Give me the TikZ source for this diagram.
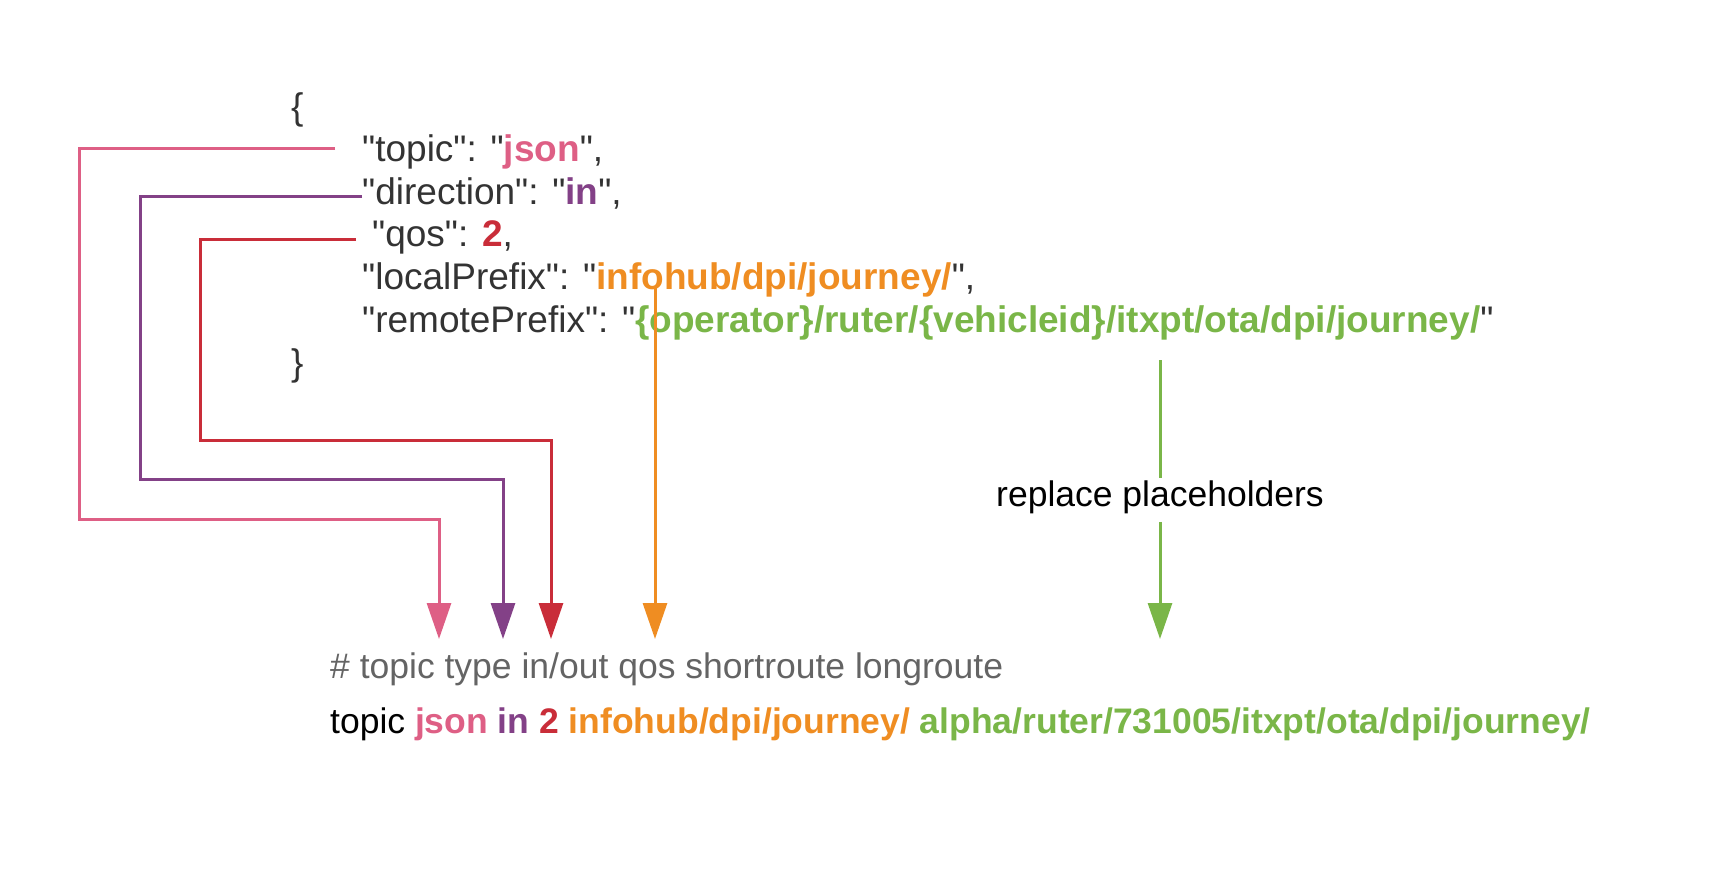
\documentclass[tikz,border=0pt]{standalone}
\usepackage{fontspec}
\setmainfont{Liberation Sans}[Ligatures=TeXOff]
\usetikzlibrary{arrows.meta}
\definecolor{cpink}{HTML}{DE5F85}
\definecolor{cpurple}{HTML}{834187}
\definecolor{cred}{HTML}{C92D39}
\definecolor{corange}{HTML}{EF8D22}
\definecolor{cgreen}{HTML}{7AB648}
\definecolor{cdark}{HTML}{333333}
\definecolor{cgrey}{HTML}{646464}
\begin{document}
\begin{tikzpicture}[x=1pt,y=-1pt,
  conn/.style={line width=3pt},
  tipped/.style={-{Triangle[length=36pt,width=24pt]}},
  json/.style={anchor=base west, inner sep=0pt, text=cdark, font=\fontsize{37}{44}\selectfont},
  bot/.style={anchor=base west, inner sep=0pt, font=\fontsize{35.5}{42}\selectfont},
  lbl/.style={inner xsep=2pt, inner ysep=4pt, text height=25pt, text depth=11pt, anchor=base, font=\fontsize{35.5}{42}\selectfont}]
\useasboundingbox (0,0) rectangle (1720,890);

% JSON block
\node[json] (lbrace) at (291,120) {\{};
\node[json] (ltopic) at (362,162) {"topic": "\textcolor{cpink}{\textbf{json}}",};
\node[json] (ldir) at (362,205) {"direction": "\textcolor{cpurple}{\textbf{in}}",};
\node[json] (lqos) at (372,247) {"qos": \textcolor{cred}{\textbf{2}},};
\node[json] (llocal) at (362,290) {"localPrefix": "\textcolor{corange}{\textbf{infohub/dpi/journey/}}",};
\node[json] (lremote) at (362,332) {"remotePrefix": "\textcolor{cgreen}{\textbf{\{operator\}/ruter/\{vehicleid\}/itxpt/ota/dpi/journey/}}"};
\node[json] (rbrace) at (291,375) {\}};

% bottom lines
\node[bot, text=cgrey] (cmt) at (330,678) {\# topic type in/out qos shortroute longroute};
\node[bot, text=black] (cfg) at (330,733) {topic \textcolor{cpink}{\textbf{json}} \textcolor{cpurple}{\textbf{in}} \textcolor{cred}{\textbf{2}} \textcolor{corange}{\textbf{infohub/dpi/journey/}} \textcolor{cgreen}{\textbf{alpha/ruter/731005/itxpt/ota/dpi/journey/}}};

% label
\node[lbl] (place) at (1160,506.7) {replace placeholders};

% connector ends
\coordinate (pinkA) at (335,149);
\coordinate (pinkT) at (439,639);
\coordinate (purA) at (362,197);
\coordinate (purT) at (503,639);
\coordinate (redA) at (356,240);
\coordinate (redT) at (551,639);
\coordinate (orA) at (655,287);
\coordinate (orT) at (655,639);
\coordinate (grA) at (1160,360);
\coordinate (grT) at (1160,639);

\draw[conn,cpink,tipped] (pinkA) -- (79,149) -- (79,519) -- (439,519) -- (pinkT);
\draw[conn,cpurple,tipped] (purA) -- (140,197) -- (140,479) -- (503,479) -- (purT);
\draw[conn,cred,tipped] (redA) -- (200,240) -- (200,440) -- (551,440) -- (redT);
\draw[conn,corange,tipped] (orA) -- (orT);
\draw[conn,cgreen] (grA) -- (place);
\draw[conn,cgreen,tipped] (place) -- (grT);
\end{tikzpicture}
\end{document}
